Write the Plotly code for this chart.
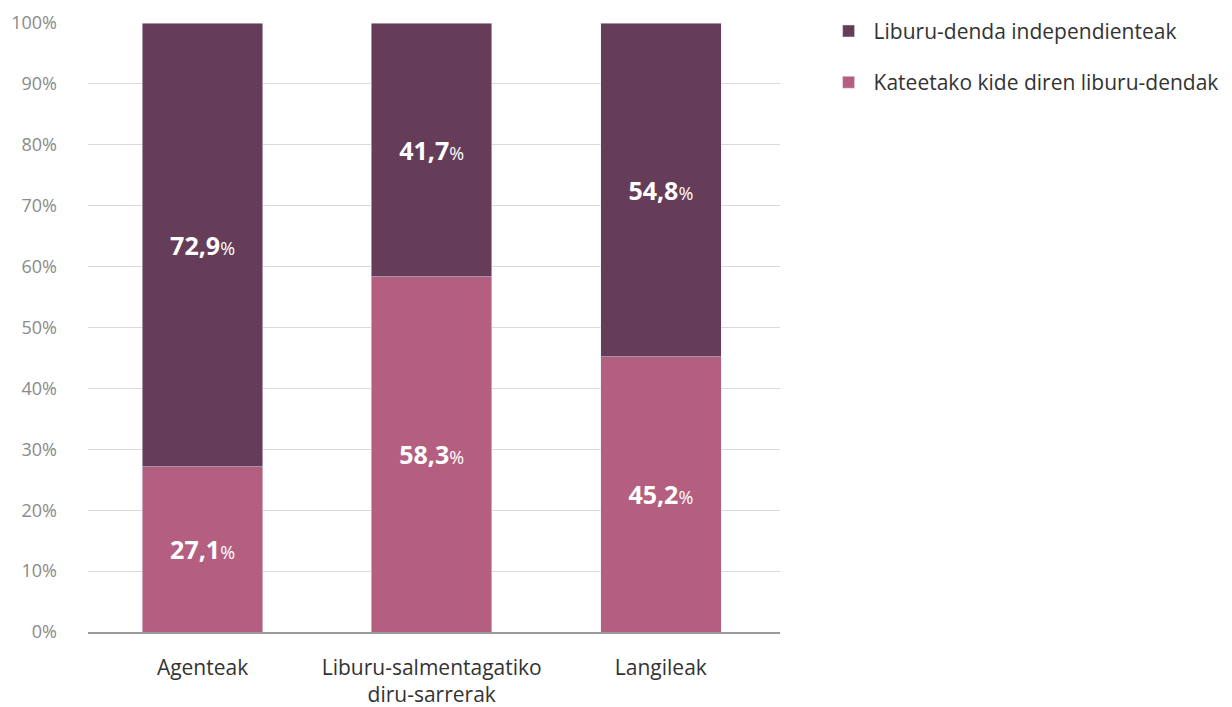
import plotly.graph_objects as go

categories = ["Agenteak", "Liburu-salmentagatiko<br>diru-sarrerak", "Langileak"]
independent = [72.9, 41.7, 54.8]
chains = [27.1, 58.3, 45.2]
series_names = ["Liburu-denda independienteak", "Kateetako kide diren liburu-dendak"]
y_ticks = [0, 10, 20, 30, 40, 50, 60, 70, 80, 90, 100]

DARK = "#653D58"
PINK = "#B55F80"
FONT = "Open Sans"


def lbl(v):
    s = f"{v:.1f}".replace(".", ",")
    return f"<b>{s}</b><span style='font-size:18px'>%</span>"


fig = go.Figure()
fig.add_trace(go.Bar(
    x=categories, y=chains, name=series_names[1], marker_color=PINK,
    text=[lbl(v) for v in chains], textposition="inside", insidetextanchor="middle",
    textfont=dict(color="white", size=25, family=FONT), width=0.526,
    legendgroup="b", legendrank=2,
))
fig.add_trace(go.Bar(
    x=categories, y=independent, name=series_names[0], marker_color=DARK,
    text=[lbl(v) for v in independent], textposition="inside", insidetextanchor="middle",
    textfont=dict(color="white", size=25, family=FONT), width=0.526,
    legendgroup="a", legendrank=1,
))

fig.update_layout(
    barmode="stack",
    width=1224, height=699,
    margin=dict(l=80, r=452, t=15, b=75, autoexpand=False),
    plot_bgcolor="white", paper_bgcolor="white",
    font=dict(family=FONT, color="#333333"),
    legend=dict(
        x=1.063, y=1.02, xanchor="left", yanchor="top",
        font=dict(size=21, color="#333333", family=FONT),
        traceorder="grouped", tracegroupgap=21,
        itemwidth=40,
    ),
    xaxis=dict(
        range=[-0.5, 2.52],
        showline=True, linecolor="#9a9a9a", linewidth=1.5,
        tickfont=dict(size=21, color="#333333"),
        ticks="", ticklabelstandoff=16, automargin=False,
    ),
    yaxis=dict(
        range=[0, 100], tickvals=y_ticks,
        ticktext=[f"{v}%" for v in y_ticks],
        tickfont=dict(size=18, color="#8a8a8a"),
        gridcolor="#d9d9d9", gridwidth=1,
        zeroline=False, ticks="", ticklabelstandoff=30, automargin=False,
    ),
)

fig.write_html("out.html")
